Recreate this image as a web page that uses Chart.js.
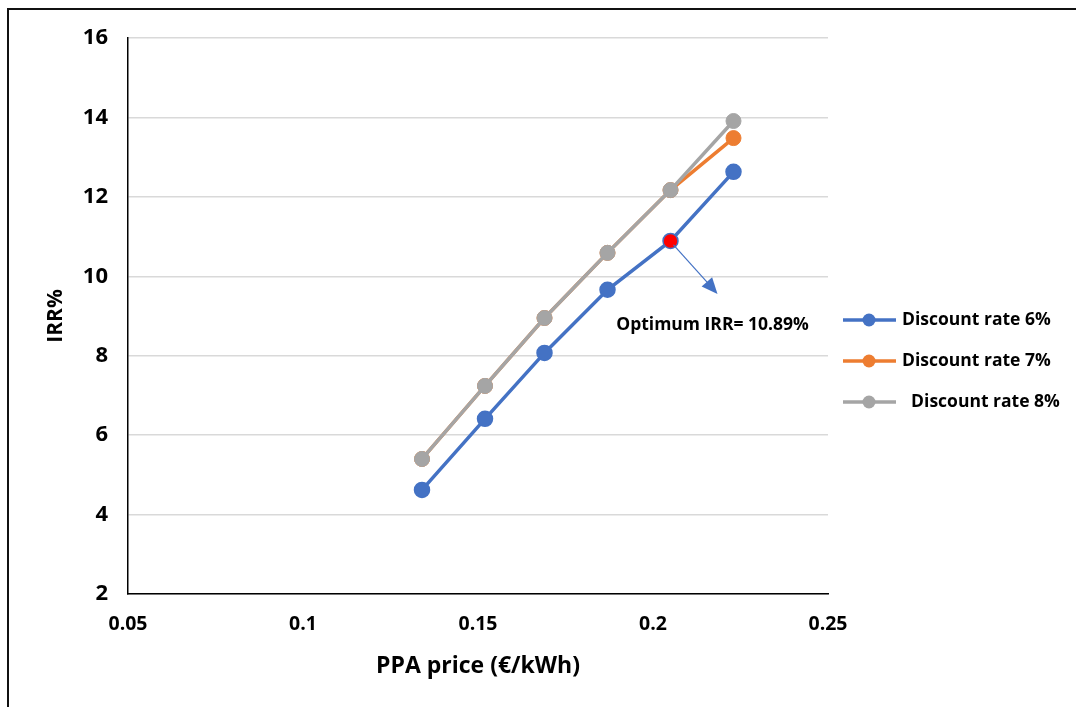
<!DOCTYPE html>
<html lang="en">

<head>
  <meta charset="UTF-8">
  <title>IRR vs PPA price</title>
  <script src="https://cdn.jsdelivr.net/npm/chart.js"></script>
  <style>
    html, body {
      margin: 0;
      padding: 0;
      background: white;
    }

    .frame {
      position: absolute;
      left: 7px;
      top: 8px;
      width: 1100px;
      height: 720px;
      border-left: 2px solid #111;
      border-top: 2px solid #111;
    }

    .chart-wrapper {
      position: relative;
      width: 1076px;
      height: 707px;
    }
  </style>
</head>

<body>
  <div class="frame"></div>
  <div class="chart-wrapper">
    <canvas id="irrChart"></canvas>
  </div>

  <script>
    // data
    const ppaPrice = [0.134, 0.152, 0.169, 0.187, 0.205, 0.223];
    const irr6 = [4.62, 6.41, 8.07, 9.66, 10.89, 12.63];
    const irr7 = [5.40, 7.24, 8.95, 10.59, 12.17, 13.48];
    const irr8 = [5.40, 7.24, 8.95, 10.59, 12.17, 13.91];
    const seriesLabels = ['Discount rate 6%', 'Discount rate 7%', '  Discount rate 8%'];
    const optimumIndex = 4;
    const optimumText = 'Optimum IRR= 10.89%';
    const xTicks = [0.05, 0.1, 0.15, 0.2, 0.25];
    const yTicks = [2, 4, 6, 8, 10, 12, 14, 16];

    const colors = ['#4472C4', '#ED7D31', '#A5A5A5'];
    const fontFamily = '"Open Sans", Lato, sans-serif';

    const toPoints = ys => ppaPrice.map((x, i) => ({ x: x, y: ys[i] }));

    // red marker on the optimum point
    const bluePointFill = ppaPrice.map((_, i) => i === optimumIndex ? '#FF0000' : colors[0]);

    // legend drawn on the right, line + dot like Excel
    const sideLegend = {
      id: 'sideLegend',
      afterDraw(chart) {
        const c = chart.ctx;
        const rows = [320, 361, 402];
        c.save();
        c.font = 'bold 17.5px ' + fontFamily;
        c.textBaseline = 'middle';
        chart.data.datasets.forEach((ds, i) => {
          const y = rows[i];
          c.strokeStyle = colors[i];
          c.lineWidth = 3.5;
          c.beginPath();
          c.moveTo(843, y);
          c.lineTo(896, y);
          c.stroke();
          c.fillStyle = colors[i];
          c.beginPath();
          c.arc(869, y, 6.5, 0, Math.PI * 2);
          c.fill();
          c.fillStyle = '#000';
          c.fillText(ds.label, 902, y);
        });
        c.restore();
      }
    };

    // arrow + label pointing away from the optimum point
    const optimumNote = {
      id: 'optimumNote',
      afterDatasetsDraw(chart) {
        const c = chart.ctx;
        const px = chart.scales.x.getPixelForValue(ppaPrice[optimumIndex]);
        const py = chart.scales.y.getPixelForValue(irr6[optimumIndex]);
        const tx = px + 47, ty = py + 53;
        const ang = Math.atan2(ty - py, tx - px);
        c.save();
        c.strokeStyle = colors[0];
        c.fillStyle = colors[0];
        c.lineWidth = 1.2;
        c.beginPath();
        c.moveTo(px + 3, py + 4);
        c.lineTo(tx - 10 * Math.cos(ang), ty - 10 * Math.sin(ang));
        c.stroke();
        c.beginPath();
        c.moveTo(tx, ty);
        c.lineTo(tx - 16 * Math.cos(ang) + 7 * Math.sin(ang), ty - 16 * Math.sin(ang) - 7 * Math.cos(ang));
        c.lineTo(tx - 16 * Math.cos(ang) - 7 * Math.sin(ang), ty - 16 * Math.sin(ang) + 7 * Math.cos(ang));
        c.closePath();
        c.fill();
        c.fillStyle = '#000';
        c.font = 'bold 17.5px ' + fontFamily;
        c.textAlign = 'center';
        c.textBaseline = 'middle';
        c.fillText(optimumText, px + 42, py + 84);
        c.restore();
      }
    };

    const ctx = document.getElementById('irrChart').getContext('2d');

    new Chart(ctx, {
      type: 'line',
      data: {
        datasets: [
          {
            label: seriesLabels[0],
            data: toPoints(irr6),
            borderColor: colors[0],
            backgroundColor: colors[0],
            pointBackgroundColor: bluePointFill,
            pointBorderColor: colors[0],
            pointBorderWidth: 1.5,
            order: 3
          },
          {
            label: seriesLabels[1],
            data: toPoints(irr7),
            borderColor: colors[1],
            backgroundColor: colors[1],
            pointBackgroundColor: colors[1],
            pointBorderColor: colors[1],
            order: 2
          },
          {
            label: seriesLabels[2],
            data: toPoints(irr8),
            borderColor: colors[2],
            backgroundColor: colors[2],
            pointBackgroundColor: colors[2],
            pointBorderColor: colors[2],
            order: 1
          }
        ]
      },
      options: {
        responsive: true,
        maintainAspectRatio: false,
        animation: false,
        elements: {
          line: { borderWidth: 3.5, tension: 0 },
          point: { radius: 7.5, hoverRadius: 7.5, borderWidth: 1 }
        },
        layout: {
          padding: { left: 0, right: 248, top: 38, bottom: 0 }
        },
        scales: {
          x: {
            type: 'linear',
            min: xTicks[0],
            max: xTicks[xTicks.length - 1],
            afterBuildTicks: axis => { axis.ticks = xTicks.map(v => ({ value: v })); },
            afterFit: axis => { axis.height = 113; },
            grid: { display: false, drawTicks: false },
            border: { color: '#000', width: 1.5 },
            ticks: {
              color: '#000',
              padding: 19,
              maxRotation: 0,
              autoSkip: false,
              font: { family: fontFamily, size: 19.5, weight: 'bold' },
              callback: v => String(parseFloat(v.toFixed(2)))
            },
            title: {
              display: true,
              text: 'PPA price (€/kWh)',
              color: '#000',
              font: { family: fontFamily, size: 23, weight: 'bold' },
              padding: { top: 8, bottom: 27 }
            }
          },
          y: {
            min: yTicks[0],
            max: yTicks[yTicks.length - 1],
            afterBuildTicks: axis => { axis.ticks = yTicks.map(v => ({ value: v })); },
            afterFit: axis => { axis.width = 128; },
            grid: { color: '#D9D9D9', lineWidth: 1.5, drawTicks: false },
            border: { color: '#000', width: 1.5 },
            ticks: {
              color: '#000',
              padding: 20,
              font: { family: fontFamily, size: 22, weight: 'bold' }
            },
            title: {
              display: true,
              text: 'IRR%',
              color: '#000',
              font: { family: fontFamily, size: 21, weight: 'bold' },
              padding: { top: 43, bottom: 0 }
            }
          }
        },
        plugins: {
          legend: { display: false },
          tooltip: { enabled: false }
        }
      },
      plugins: [optimumNote, sideLegend]
    });
  </script>
</body>

</html>
